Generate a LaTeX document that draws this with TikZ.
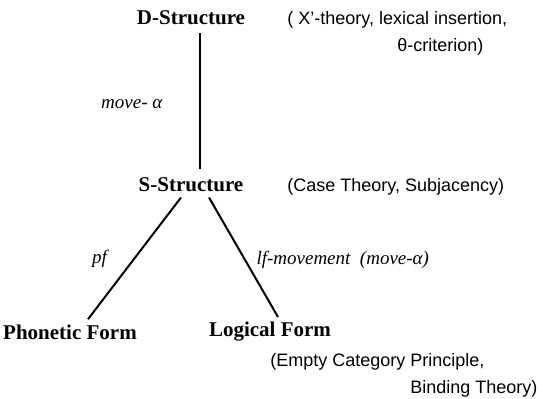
\documentclass[tikz,border=0pt]{standalone}
\usepackage{fontspec}
\setmainfont{Liberation Serif}
\setsansfont{Liberation Sans}
\usetikzlibrary{positioning}

\begin{document}
\begin{tikzpicture}[
    x=0.5pt, y=-0.5pt,
    level/.style={font=\fontsize{10.5}{12}\selectfont\bfseries, inner sep=2.5pt},
    note/.style={font=\sffamily\fontsize{9}{13.5}\selectfont, align=left, inner sep=0pt},
    move/.style={font=\fontsize{9.5}{11}\selectfont\itshape},
    branch/.style={line width=1pt},
  ]
  \useasboundingbox (0,0) rectangle (559,398);
  % ── levels of representation ──
  \node[level] (ds)  at (191,18)  {D-Structure};
  \node[level] (ss)  at (191,185) {S-Structure};
  \node[level] (pfm) at (70,332)  {Phonetic Form};
  \node[level] (lfm) at (270,332) {Logical Form};
  % ── derivation ──
  \draw[branch] ([xshift=4.5pt,yshift=-1.5pt]ds.south) -- node[move, left=15pt, pos=0.52] {move- α} ([xshift=4.5pt,yshift=2pt]ss.north);
  \draw[branch] ([xshift=-5pt]ss.south) -- node[move, left=10pt, pos=0.5] {pf} ([xshift=9pt]pfm.north);
  \draw[branch] ([xshift=9pt]ss.south) -- node[move, right=2pt, pos=0.52] {lf-movement\enspace(move-α)} ([xshift=4pt]lfm.north);
  % ── principles at each level ──
  \node[note, anchor=north west] (dsnote) at (287,11) {( X'-theory, lexical insertion,\\\hspace*{55pt}θ-criterion)};
  \node[note, anchor=north west] (ssnote) at (287,178) {(Case Theory, Subjacency)};
  \node[note, anchor=north west] (lfnote) at (270,353) {(Empty Category Principle,\\\hspace*{70pt}Binding Theory)};
\end{tikzpicture}
\end{document}
